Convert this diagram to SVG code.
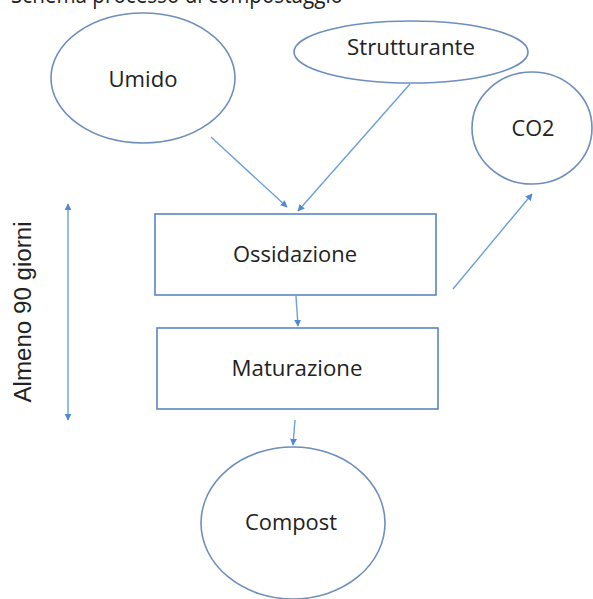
<svg xmlns="http://www.w3.org/2000/svg" width="593" height="599" viewBox="0 0 593 599">
<style>
.shape{fill:#fff;stroke:#6d8fbd;stroke-width:1.6}
.box{fill:#fff;stroke:#5a86c6;stroke-width:1.6}
.lbl{font-family:"Open Sans","Liberation Sans",sans-serif;font-size:21px;fill:#222;text-anchor:middle}
.con{stroke:#6aa0dc;stroke-width:1.4;fill:none}
</style>
<defs>
<marker id="ah" viewBox="0 0 10 10" refX="9" refY="5" markerWidth="7" markerHeight="7" orient="auto-start-reverse" markerUnits="userSpaceOnUse">
<path d="M0,0 L10,5 L0,10 z" fill="#4f8ad6"/>
</marker>
</defs>
<rect width="593" height="599" fill="#fff"/>
<text x="11" y="3" font-family="Open Sans, Liberation Sans, sans-serif" font-size="23" fill="#222" textLength="332" lengthAdjust="spacingAndGlyphs">Schema processo di compostaggio</text>
<g id="umido"><ellipse class="shape" cx="143" cy="78" rx="92" ry="65"/><text class="lbl" x="143" y="87" textLength="69" lengthAdjust="spacingAndGlyphs">Umido</text></g>
<g id="strutturante"><ellipse class="shape" cx="411" cy="52" rx="117" ry="31"/><text class="lbl" x="411" y="55" textLength="128" lengthAdjust="spacingAndGlyphs">Strutturante</text></g>
<g id="co2"><ellipse class="shape" cx="532" cy="128" rx="60" ry="56"/><text class="lbl" x="533" y="136" textLength="43" lengthAdjust="spacingAndGlyphs">CO2</text></g>
<g id="ossidazione"><rect class="box" x="155" y="214" width="281" height="81"/><text class="lbl" x="295" y="262" textLength="124" lengthAdjust="spacingAndGlyphs">Ossidazione</text></g>
<g id="maturazione"><rect class="box" x="157" y="328" width="281" height="81"/><text class="lbl" x="297" y="376" textLength="131" lengthAdjust="spacingAndGlyphs">Maturazione</text></g>
<g id="compost"><ellipse class="shape" cx="293" cy="523" rx="92" ry="76"/><text class="lbl" x="291" y="530" textLength="92" lengthAdjust="spacingAndGlyphs">Compost</text></g>
<g id="durata"><text x="31" y="312" font-family="Liberation Sans, Arial, sans-serif" font-size="23" fill="#222" text-anchor="middle" transform="rotate(-90 31 312)" textLength="181" lengthAdjust="spacingAndGlyphs">Almeno 90 giorni</text></g>
<g id="connectors">
<line class="con" x1="211" y1="137" x2="287" y2="207" marker-end="url(#ah)"/>
<line class="con" x1="410" y1="84" x2="298" y2="211" marker-end="url(#ah)"/>
<line class="con" x1="296" y1="296" x2="298" y2="326" marker-end="url(#ah)"/>
<line class="con" x1="295" y1="420" x2="293" y2="445" marker-end="url(#ah)"/>
<line class="con" x1="453" y1="289" x2="532" y2="194" marker-end="url(#ah)"/>
<line class="con" x1="68" y1="204" x2="68" y2="420" marker-start="url(#ah)" marker-end="url(#ah)"/>
</g>
</svg>
